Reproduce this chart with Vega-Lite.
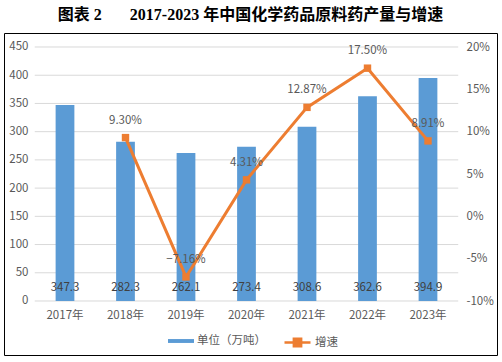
{
  "$schema": "https://vega.github.io/schema/vega-lite/v6.json",
  "width": 493,
  "height": 322,
  "autosize": {"type": "none"},
  "padding": {"left": 4, "top": 33, "right": 5, "bottom": 7},
  "title": {
    "text": "图表 2\u3000\u2002 2017-2023 年中国化学药品原料药产量与增速",
    "font": "Liberation Serif, Noto Sans CJK SC",
    "fontSize": 16,
    "fontWeight": "bold",
    "color": "#000000",
    "anchor": "middle",
    "offset": 10
  },
  "config": {
    "view": {"stroke": "#000000", "strokeWidth": 1},
    "axis": {
      "labelFont": "Noto Sans CJK SC",
      "labelFontSize": 11.5,
      "labelColor": "#595959",
      "domain": false,
      "ticks": false,
      "tickSize": 0,
      "grid": false,
      "title": null
    },
    "legend": {
      "labelFont": "Noto Sans CJK SC",
      "labelFontSize": 11.5,
      "labelColor": "#595959"
    }
  },
  "data": {
    "values": [
      {"year": "2017年", "prod": 347.3, "growth": null},
      {"year": "2018年", "prod": 282.3, "growth": 0.093},
      {"year": "2019年", "prod": 262.1, "growth": -0.0716},
      {"year": "2020年", "prod": 273.4, "growth": 0.0431},
      {"year": "2021年", "prod": 308.6, "growth": 0.1287},
      {"year": "2022年", "prod": 362.6, "growth": 0.175},
      {"year": "2023年", "prod": 394.9, "growth": 0.0891}
    ]
  },
  "encoding": {
    "x": {
      "field": "year", "type": "nominal", "sort": null,
      "scale": {"type": "band", "domain": ["2017年", "2018年", "2019年", "2020年", "2021年", "2022年", "2023年"], "paddingInner": 0, "paddingOuter": 0.5744, "align": 0.4424},
      "axis": {"orient": "bottom", "offset": -54, "labelPadding": 8, "labelAngle": 0}
    }
  },
  "layer": [
    {
      "data": {"values": [{"g": 0}, {"g": 50}, {"g": 100}, {"g": 150}, {"g": 200}, {"g": 250}, {"g": 300}, {"g": 350}, {"g": 400}, {"g": 450}]},
      "mark": {"type": "rule", "color": "#d9d9d9", "strokeWidth": 1},
      "encoding": {
        "x": {"datum": "2017年", "bandPosition": 0},
        "x2": {"datum": "2023年", "bandPosition": 1},
        "y": {
          "field": "g", "type": "quantitative",
          "scale": {"domain": [-95.67, 474.8], "nice": false, "zero": false},
          "axis": {"orient": "left", "offset": -31, "labelPadding": 7, "values": [0, 50, 100, 150, 200, 250, 300, 350, 400, 450]}
        }
      }
    },
    {
      "layer": [
        {
          "mark": {"type": "bar", "width": {"band": 0.31}},
          "encoding": {
            "y": {"field": "prod", "type": "quantitative", "scale": {"domain": [-95.67, 474.8], "nice": false, "zero": true}, "axis": null},
            "color": {
              "datum": "单位（万吨）",
              "scale": {"domain": ["单位（万吨）"], "range": ["#5B9BD5"]},
              "legend": {
                "orient": "none",
                "direction": "horizontal",
                "legendX": 164,
                "legendY": 295,
                "title": null,
                "padding": 0,
                "symbolType": "M-1,-0.15H1V0.15H-1Z",
                "symbolSize": 676,
                "symbolStrokeWidth": 0,
                "symbolOpacity": 1,
                "labelOffset": 3
              }
            }
          }
        },
        {
          "mark": {"type": "text", "font": "Noto Sans CJK SC", "fontSize": 11.5, "color": "#404040", "baseline": "middle", "dy": -13},
          "encoding": {
            "y": {"datum": 0},
            "text": {"field": "prod", "type": "quantitative", "format": ".1f"}
          }
        }
      ]
    },
    {
      "encoding": {
        "y": {
          "field": "growth", "type": "quantitative",
          "scale": {"domain": [-0.16378, 0.21654], "nice": false, "zero": false},
          "axis": {"orient": "right", "offset": -38, "labelPadding": 7, "values": [-0.1, -0.05, 0, 0.05, 0.1, 0.15, 0.2], "format": ".0%", "labelExpr": "replace(datum.label, '\u2212', '-')"}
        }
      },
      "layer": [
        {
          "mark": {"type": "line", "strokeWidth": 3},
          "encoding": {
            "stroke": {
              "datum": "增速",
              "scale": {"domain": ["增速"], "range": ["#ED7D31"]},
              "legend": {
                "orient": "none",
                "direction": "horizontal",
                "legendX": 279,
                "legendY": 295,
                "title": null,
                "padding": 0,
                "symbolType": "M-1,0H1M-0.28,-0.28H0.28V0.28H-0.28Z",
                "symbolSize": 676,
                "symbolStrokeWidth": 2.5,
                "symbolFillColor": "#ED7D31",
                "symbolOpacity": 1,
                "labelOffset": 3
              }
            }
          }
        },
        {
          "mark": {"type": "point", "shape": "square", "filled": true, "size": 55, "opacity": 1, "color": "#ED7D31"}
        },
        {
          "mark": {"type": "text", "font": "Noto Sans CJK SC", "fontSize": 11.5, "color": "#595959", "baseline": "middle", "dy": -17},
          "encoding": {"text": {"field": "growth", "type": "quantitative", "format": ".2%"}}
        }
      ]
    }
  ],
  "resolve": {"scale": {"y": "independent"}}
}
